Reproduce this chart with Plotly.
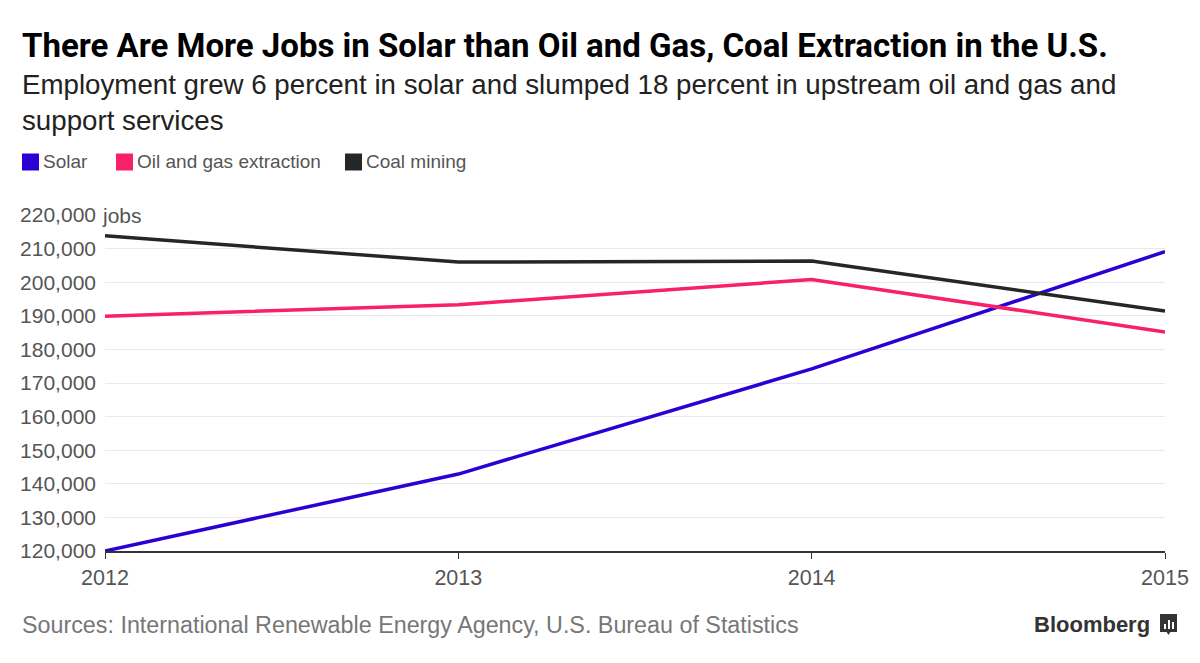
import plotly.graph_objects as go

years = [2012, 2013, 2014, 2015]
solar = [120000, 142900, 174200, 209100]
oil_gas = [189900, 193300, 200800, 185200]
coal = [213800, 206000, 206300, 191400]

series_names = ["Solar", "Oil and gas extraction", "Coal mining"]
series_colors = ["#2a00d5", "#f7206a", "#262626"]

y_ticks = [120000, 130000, 140000, 150000, 160000, 170000, 180000,
           190000, 200000, 210000, 220000]
y_tick_labels = ["120,000", "130,000", "140,000", "150,000", "160,000", "170,000",
                 "180,000", "190,000", "200,000", "210,000", "220,000"]
x_tick_labels = ["2012", "2013", "2014", "2015"]

title = "There Are More Jobs in Solar than Oil and Gas, Coal Extraction in the U.S."
subtitle = ("Employment grew 6 percent in solar and slumped 18 percent in upstream oil and gas and"
            "<br>support services")
source = "Sources: International Renewable Energy Agency, U.S. Bureau of Statistics"

# page has an 8px body margin, so the figure is laid out 8px up/left
OFF = 8
W, H = 1200, 663
L, T, PW, PH = 105, 215, 1060, 336   # plot area as seen on screen


def px(sx):
    return (sx - L) / PW


def py(sy):
    return 1 - (sy - T) / PH


fig = go.Figure()

for name, vals, color in zip(series_names, [solar, oil_gas, coal], series_colors):
    fig.add_trace(go.Scatter(x=years, y=vals, mode="lines", name=name,
                             line=dict(color=color, width=3.5), showlegend=False))

fig.update_layout(
    width=W, height=H,
    margin=dict(l=L - OFF, r=W - (L - OFF) - PW, t=T - OFF, b=H - (T - OFF) - PH),
    paper_bgcolor="white", plot_bgcolor="white",
    font=dict(family="Liberation Sans, Arial, sans-serif", color="#555555"),
    title=dict(text="<b>" + title + "</b>", xref="container", yref="container",
               x=(22 - OFF) / W, xanchor="left", y=1 - (45 - OFF) / H, yanchor="middle",
               font=dict(family="Roboto, sans-serif", size=33, color="#000000")),
    showlegend=False,
    xaxis=dict(range=[2012, 2015], tickvals=years, ticktext=x_tick_labels,
               showgrid=False, zeroline=False, showline=True, linecolor="#333333",
               linewidth=1.5, ticks="outside", ticklen=6, tickcolor="#333333",
               tickfont=dict(size=21.5, color="#555555")),
    yaxis=dict(range=[120000, 220000], tickvals=y_ticks, ticktext=y_tick_labels,
               showgrid=True, gridcolor="#e8e8f0", gridwidth=1, zeroline=False,
               showline=False, ticks="", ticklabelstandoff=8,
               tickfont=dict(size=21, color="#555555")),
)

fig.add_annotation(text=subtitle, xref="paper", yref="paper",
                   x=px(20), y=py(67), xanchor="left", yanchor="top",
                   align="left", showarrow=False,
                   font=dict(size=27.7, color="#222222"))

# legend: square swatches followed by labels
legend_x = [22, 116, 345]
for sx, name, color in zip(legend_x, series_names, series_colors):
    fig.add_shape(type="rect", xref="paper", yref="paper",
                  x0=px(sx), x1=px(sx + 17), y0=py(170.5), y1=py(153.5),
                  fillcolor=color, line=dict(width=0))
    fig.add_annotation(text=name, xref="paper", yref="paper",
                       x=px(sx + 19), y=py(162), xanchor="left", yanchor="middle",
                       showarrow=False, font=dict(size=19, color="#555555"))

fig.add_annotation(text="jobs", xref="x", yref="y", x=2012, y=220000,
                   xanchor="left", yanchor="middle", xshift=-5, showarrow=False,
                   font=dict(size=21, color="#555555"))

fig.add_annotation(text=source, xref="paper", yref="paper",
                   x=px(20), y=py(625), xanchor="left", yanchor="middle",
                   showarrow=False, font=dict(size=23.3, color="#777777"))

fig.add_annotation(text="<b>Bloomberg</b>", xref="paper", yref="paper",
                   x=px(1152), y=py(624), xanchor="right",
                   yanchor="middle", showarrow=False,
                   font=dict(size=22, color="#333333"))

# small logo glyph next to the wordmark
fig.add_shape(type="rect", xref="paper", yref="paper",
              x0=px(1160), x1=px(1177), y0=py(632), y1=py(614),
              fillcolor="#333333", line=dict(width=0))
fig.add_shape(type="path", xref="paper", yref="paper",
              path=f"M {px(1166)},{py(631)} L {px(1171)},{py(631)} "
                   f"L {px(1168.5)},{py(635)} Z",
              fillcolor="#333333", line=dict(width=0))
for bx, top in [(1164, 624), (1168, 620), (1172, 622)]:
    fig.add_shape(type="rect", xref="paper", yref="paper",
                  x0=px(bx), x1=px(bx + 2), y0=py(629), y1=py(top),
                  fillcolor="white", line=dict(width=0))

fig.write_html("out.html")
